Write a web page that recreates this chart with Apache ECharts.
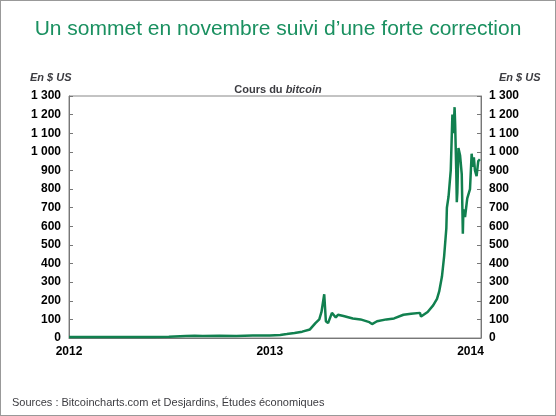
<!DOCTYPE html>
<html><head><meta charset="utf-8">
<script src="https://cdn.jsdelivr.net/npm/echarts@6/dist/echarts.min.js"></script>
<style>html,body{margin:0;padding:0;background:#fff}#c{width:556px;height:416px;box-sizing:border-box;border:1px solid #999}</style>
</head><body><div id="c"></div>
<script>
const dates = ['2012-01-01','2012-02-01','2012-03-01','2012-04-01','2012-05-01','2012-06-01','2012-07-01','2012-08-01','2012-08-17','2012-09-01','2012-10-01','2012-11-01','2012-12-01','2013-01-01','2013-01-20','2013-02-01','2013-02-15','2013-03-01','2013-03-15','2013-03-25','2013-04-01','2013-04-05','2013-04-10','2013-04-13','2013-04-17','2013-04-24','2013-05-01','2013-05-05','2013-05-15','2013-06-01','2013-06-15','2013-07-01','2013-07-06','2013-07-15','2013-08-01','2013-08-15','2013-09-01','2013-09-15','2013-10-01','2013-10-03','2013-10-15','2013-10-25','2013-11-01','2013-11-05','2013-11-10','2013-11-14','2013-11-18','2013-11-19','2013-11-22','2013-11-26','2013-11-29','2013-12-01','2013-12-03','2013-12-04','2013-12-06','2013-12-07','2013-12-08','2013-12-10','2013-12-13','2013-12-16','2013-12-18','2013-12-19','2013-12-22','2013-12-26','2013-12-31','2014-01-03','2014-01-05','2014-01-07','2014-01-09','2014-01-12','2014-01-15','2014-01-18'];
const prices = [5,5,5,5,5,6,7,11,12,11,12,11,13,13,16,21,27,34,46,80,100,140,235,90,80,135,110,125,118,105,100,85,75,90,100,105,125,130,135,115,140,175,210,250,330,440,590,700,760,900,1200,1100,1240,1150,900,730,780,1020,980,880,560,690,650,750,800,990,920,970,900,870,950,960];
const yTicks = [0,100,200,300,400,500,600,700,800,900,1000,1100,1200,1300];
function dec(d){const t=new Date(d+'T00:00:00Z');const y=t.getUTCFullYear();const s=Date.UTC(y,0,1),e=Date.UTC(y+1,0,1);return y+(t-s)/(e-s);}
const data = dates.map((d,i)=>[dec(d),prices[i]]);
const fmt = v => v>=1000 ? Math.floor(v/1000)+' '+String(v%1000).padStart(3,'0') : String(v);
const lab = {color:'#000',fontWeight:'bold',fontSize:12,fontFamily:'Liberation Sans, Arial'};
const ch = echarts.init(document.getElementById('c'));
ch.setOption({
  animation:false,
  title:[
    {text:'Un sommet en novembre suivi d\u2019une forte correction',left:'center',top:13,textStyle:{color:'#1a9060',fontSize:21,fontWeight:'normal',fontFamily:'Liberation Sans, Arial'}},
    {text:'En $ US',left:24,top:66,textStyle:{fontSize:11,fontStyle:'italic',fontWeight:'bold',fontFamily:'Liberation Sans, Arial'}},
    {text:'En $ US',left:493,top:66,textStyle:{fontSize:11,fontStyle:'italic',fontWeight:'bold',fontFamily:'Liberation Sans, Arial'}},
    {text:'{a|Cours du }{b|bitcoin}',left:'center',top:78,textStyle:{rich:{a:{fontSize:11,fontWeight:'bold',fontFamily:'Liberation Sans, Arial'},b:{fontSize:11,fontWeight:'bold',fontStyle:'italic',fontFamily:'Liberation Sans, Arial'}}}},
    {text:'Sources : Bitcoincharts.com et Desjardins, \u00c9tudes \u00e9conomiques',left:6,top:391,textStyle:{fontSize:11,fontWeight:'normal',fontFamily:'Liberation Sans, Arial'}}
  ],
  grid:{left:68,right:74,top:95,bottom:77,show:true,borderColor:'#888',borderWidth:1},
  xAxis:{type:'value',min:2012,max:dec('2014-01-20'),interval:1,
    axisLine:{lineStyle:{color:'#777'}},axisTick:{show:false},splitLine:{show:false},
    axisLabel:{...lab,formatter:v=>Number.isInteger(v)?String(v):'',margin:8,showMaxLabel:false}},
  yAxis:[
    {type:'value',min:0,max:1300,interval:100,axisLine:{show:true,lineStyle:{color:'#777'}},axisTick:{show:true,inside:true,length:4},splitLine:{show:false},axisLabel:{...lab,formatter:fmt}},
    {type:'value',min:0,max:1300,interval:100,position:'right',axisLine:{show:true,lineStyle:{color:'#777'}},axisTick:{show:true,inside:true,length:4},splitLine:{show:false},axisLabel:{...lab,formatter:fmt}}
  ],
  series:[{type:'line',data:data,showSymbol:false,lineStyle:{color:'#11804f',width:2.5},itemStyle:{color:'#11804f'}}]
});
</script></body></html>
